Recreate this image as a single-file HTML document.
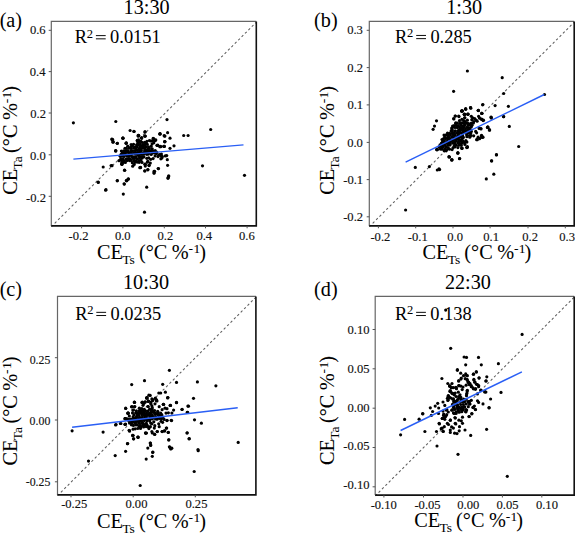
<!DOCTYPE html>
<html><head><meta charset="utf-8"><style>
html,body{margin:0;padding:0;background:#fff;}
body{width:575px;height:533px;overflow:hidden;}
svg{display:block;font-family:"Liberation Serif", serif;}
text{fill:#000;stroke:#000;stroke-width:0.04px;}
.tk{fill:#111;stroke:#111;stroke-width:0.15px;}
</style></head><body>
<svg width="575" height="533" viewBox="0 0 575 533">
<rect width="575" height="533" fill="#fff"/>
<line x1="51.3" y1="226.7" x2="256.3" y2="22.2" stroke="#5e5e5e" stroke-width="1.05" stroke-dasharray="2.4 2.4"/>
<g>
<circle cx="73.4" cy="122.8" r="1.58"/>
<circle cx="115.8" cy="121.5" r="1.58"/>
<circle cx="130.1" cy="130.5" r="1.58"/>
<circle cx="122.9" cy="138.2" r="1.58"/>
<circle cx="112.0" cy="139.4" r="1.58"/>
<circle cx="113.2" cy="141.9" r="1.58"/>
<circle cx="117.2" cy="143.3" r="1.58"/>
<circle cx="126.1" cy="143.1" r="1.58"/>
<circle cx="167.0" cy="119.6" r="1.58"/>
<circle cx="134.1" cy="131.5" r="1.58"/>
<circle cx="145.1" cy="131.9" r="1.58"/>
<circle cx="138.6" cy="135.4" r="1.58"/>
<circle cx="145.1" cy="136.0" r="1.58"/>
<circle cx="160.1" cy="133.7" r="1.58"/>
<circle cx="167.6" cy="132.7" r="1.58"/>
<circle cx="164.9" cy="136.1" r="1.58"/>
<circle cx="170.0" cy="138.2" r="1.58"/>
<circle cx="183.7" cy="135.5" r="1.58"/>
<circle cx="188.1" cy="135.5" r="1.58"/>
<circle cx="164.9" cy="141.5" r="1.58"/>
<circle cx="141.7" cy="137.9" r="1.58"/>
<circle cx="137.2" cy="140.7" r="1.58"/>
<circle cx="153.6" cy="138.6" r="1.58"/>
<circle cx="155.4" cy="140.3" r="1.58"/>
<circle cx="146.9" cy="141.3" r="1.58"/>
<circle cx="150.6" cy="141.0" r="1.58"/>
<circle cx="210.7" cy="129.5" r="1.58"/>
<circle cx="115.8" cy="151.0" r="1.58"/>
<circle cx="103.2" cy="167.0" r="1.58"/>
<circle cx="111.1" cy="165.6" r="1.58"/>
<circle cx="124.5" cy="170.2" r="1.58"/>
<circle cx="98.3" cy="182.4" r="1.58"/>
<circle cx="117.2" cy="180.8" r="1.58"/>
<circle cx="124.3" cy="184.1" r="1.58"/>
<circle cx="127.0" cy="180.2" r="1.58"/>
<circle cx="106.0" cy="189.7" r="1.58"/>
<circle cx="119.0" cy="160.7" r="1.58"/>
<circle cx="122.1" cy="164.3" r="1.58"/>
<circle cx="164.9" cy="141.8" r="1.58"/>
<circle cx="174.0" cy="145.8" r="1.58"/>
<circle cx="164.3" cy="146.3" r="1.58"/>
<circle cx="160.7" cy="146.7" r="1.58"/>
<circle cx="157.6" cy="145.5" r="1.58"/>
<circle cx="170.0" cy="148.3" r="1.58"/>
<circle cx="166.7" cy="155.6" r="1.58"/>
<circle cx="167.3" cy="159.7" r="1.58"/>
<circle cx="161.9" cy="158.0" r="1.58"/>
<circle cx="158.8" cy="155.2" r="1.58"/>
<circle cx="156.4" cy="153.6" r="1.58"/>
<circle cx="161.3" cy="155.8" r="1.58"/>
<circle cx="167.6" cy="165.3" r="1.58"/>
<circle cx="158.2" cy="168.6" r="1.58"/>
<circle cx="154.0" cy="171.4" r="1.58"/>
<circle cx="154.0" cy="173.1" r="1.58"/>
<circle cx="147.9" cy="169.8" r="1.58"/>
<circle cx="144.8" cy="171.0" r="1.58"/>
<circle cx="140.6" cy="167.4" r="1.58"/>
<circle cx="149.1" cy="165.6" r="1.58"/>
<circle cx="132.7" cy="166.2" r="1.58"/>
<circle cx="168.6" cy="176.5" r="1.58"/>
<circle cx="168.0" cy="178.3" r="1.58"/>
<circle cx="128.4" cy="179.0" r="1.58"/>
<circle cx="126.6" cy="180.8" r="1.58"/>
<circle cx="117.4" cy="180.5" r="1.58"/>
<circle cx="124.1" cy="183.8" r="1.58"/>
<circle cx="146.7" cy="187.2" r="1.58"/>
<circle cx="121.7" cy="164.3" r="1.58"/>
<circle cx="145.4" cy="164.3" r="1.58"/>
<circle cx="150.3" cy="163.1" r="1.58"/>
<circle cx="133.9" cy="131.4" r="1.58"/>
<circle cx="144.9" cy="131.9" r="1.58"/>
<circle cx="159.8" cy="133.8" r="1.58"/>
<circle cx="138.2" cy="135.3" r="1.58"/>
<circle cx="144.9" cy="136.2" r="1.58"/>
<circle cx="141.6" cy="138.1" r="1.58"/>
<circle cx="122.9" cy="138.1" r="1.58"/>
<circle cx="111.9" cy="139.1" r="1.58"/>
<circle cx="112.9" cy="142.0" r="1.58"/>
<circle cx="126.3" cy="142.9" r="1.58"/>
<circle cx="115.7" cy="150.6" r="1.58"/>
<circle cx="156.9" cy="145.3" r="1.58"/>
<circle cx="159.8" cy="146.7" r="1.58"/>
<circle cx="163.6" cy="146.3" r="1.58"/>
<circle cx="164.1" cy="135.7" r="1.58"/>
<circle cx="202.5" cy="165.8" r="1.58"/>
<circle cx="244.5" cy="175.3" r="1.58"/>
<circle cx="98.1" cy="182.0" r="1.58"/>
<circle cx="105.6" cy="190.2" r="1.58"/>
<circle cx="123.3" cy="194.1" r="1.58"/>
<circle cx="144.5" cy="212.2" r="1.58"/>
<circle cx="168.2" cy="177.3" r="1.58"/>
<circle cx="168.7" cy="175.8" r="1.58"/>
<circle cx="126.3" cy="180.5" r="1.58"/>
<circle cx="128.3" cy="178.9" r="1.58"/>
<circle cx="138.9" cy="141.0" r="1.58"/>
<circle cx="149.4" cy="140.5" r="1.58"/>
<circle cx="152.1" cy="140.9" r="1.58"/>
<circle cx="154.5" cy="140.7" r="1.58"/>
<circle cx="137.7" cy="142.9" r="1.58"/>
<circle cx="139.1" cy="142.3" r="1.58"/>
<circle cx="142.3" cy="142.5" r="1.58"/>
<circle cx="144.6" cy="142.4" r="1.58"/>
<circle cx="146.0" cy="142.7" r="1.58"/>
<circle cx="153.8" cy="142.8" r="1.58"/>
<circle cx="131.1" cy="144.5" r="1.58"/>
<circle cx="133.5" cy="144.3" r="1.58"/>
<circle cx="136.6" cy="144.9" r="1.58"/>
<circle cx="138.2" cy="144.9" r="1.58"/>
<circle cx="140.4" cy="144.4" r="1.58"/>
<circle cx="143.4" cy="144.7" r="1.58"/>
<circle cx="144.9" cy="145.0" r="1.58"/>
<circle cx="147.3" cy="144.3" r="1.58"/>
<circle cx="152.0" cy="144.1" r="1.58"/>
<circle cx="127.7" cy="146.2" r="1.58"/>
<circle cx="130.8" cy="146.9" r="1.58"/>
<circle cx="132.4" cy="146.2" r="1.58"/>
<circle cx="135.2" cy="147.0" r="1.58"/>
<circle cx="136.9" cy="147.0" r="1.58"/>
<circle cx="139.9" cy="146.7" r="1.58"/>
<circle cx="141.8" cy="146.2" r="1.58"/>
<circle cx="143.7" cy="147.0" r="1.58"/>
<circle cx="146.2" cy="146.8" r="1.58"/>
<circle cx="148.5" cy="146.9" r="1.58"/>
<circle cx="151.1" cy="146.3" r="1.58"/>
<circle cx="125.0" cy="148.3" r="1.58"/>
<circle cx="126.4" cy="148.3" r="1.58"/>
<circle cx="129.1" cy="148.1" r="1.58"/>
<circle cx="131.2" cy="148.4" r="1.58"/>
<circle cx="133.9" cy="148.2" r="1.58"/>
<circle cx="136.0" cy="148.9" r="1.58"/>
<circle cx="138.9" cy="148.7" r="1.58"/>
<circle cx="140.9" cy="148.6" r="1.58"/>
<circle cx="142.6" cy="148.1" r="1.58"/>
<circle cx="144.8" cy="149.0" r="1.58"/>
<circle cx="147.8" cy="149.0" r="1.58"/>
<circle cx="149.4" cy="148.7" r="1.58"/>
<circle cx="152.2" cy="148.8" r="1.58"/>
<circle cx="121.4" cy="151.0" r="1.58"/>
<circle cx="123.7" cy="150.8" r="1.58"/>
<circle cx="126.0" cy="151.0" r="1.58"/>
<circle cx="127.9" cy="150.7" r="1.58"/>
<circle cx="130.8" cy="150.9" r="1.58"/>
<circle cx="132.6" cy="150.8" r="1.58"/>
<circle cx="135.3" cy="150.6" r="1.58"/>
<circle cx="137.4" cy="150.4" r="1.58"/>
<circle cx="139.6" cy="150.7" r="1.58"/>
<circle cx="141.4" cy="150.7" r="1.58"/>
<circle cx="144.6" cy="150.9" r="1.58"/>
<circle cx="146.7" cy="150.4" r="1.58"/>
<circle cx="149.0" cy="150.6" r="1.58"/>
<circle cx="151.0" cy="150.9" r="1.58"/>
<circle cx="152.9" cy="150.8" r="1.58"/>
<circle cx="155.2" cy="150.7" r="1.58"/>
<circle cx="122.5" cy="152.6" r="1.58"/>
<circle cx="124.7" cy="153.0" r="1.58"/>
<circle cx="126.7" cy="152.1" r="1.58"/>
<circle cx="129.0" cy="152.7" r="1.58"/>
<circle cx="131.2" cy="152.2" r="1.58"/>
<circle cx="134.2" cy="152.7" r="1.58"/>
<circle cx="136.0" cy="152.9" r="1.58"/>
<circle cx="138.2" cy="152.7" r="1.58"/>
<circle cx="140.4" cy="152.5" r="1.58"/>
<circle cx="143.3" cy="153.0" r="1.58"/>
<circle cx="145.7" cy="152.4" r="1.58"/>
<circle cx="147.7" cy="152.4" r="1.58"/>
<circle cx="149.5" cy="152.6" r="1.58"/>
<circle cx="152.5" cy="152.9" r="1.58"/>
<circle cx="154.7" cy="153.0" r="1.58"/>
<circle cx="156.6" cy="152.2" r="1.58"/>
<circle cx="121.1" cy="154.3" r="1.58"/>
<circle cx="123.2" cy="154.5" r="1.58"/>
<circle cx="125.9" cy="154.6" r="1.58"/>
<circle cx="127.9" cy="154.9" r="1.58"/>
<circle cx="130.8" cy="154.5" r="1.58"/>
<circle cx="132.2" cy="154.1" r="1.58"/>
<circle cx="135.3" cy="154.1" r="1.58"/>
<circle cx="137.5" cy="154.6" r="1.58"/>
<circle cx="139.4" cy="154.8" r="1.58"/>
<circle cx="141.4" cy="154.2" r="1.58"/>
<circle cx="144.1" cy="154.1" r="1.58"/>
<circle cx="146.8" cy="154.3" r="1.58"/>
<circle cx="148.4" cy="154.1" r="1.58"/>
<circle cx="151.2" cy="154.5" r="1.58"/>
<circle cx="120.2" cy="156.3" r="1.58"/>
<circle cx="122.3" cy="156.2" r="1.58"/>
<circle cx="124.1" cy="156.5" r="1.58"/>
<circle cx="127.1" cy="156.2" r="1.58"/>
<circle cx="129.0" cy="156.4" r="1.58"/>
<circle cx="131.7" cy="156.6" r="1.58"/>
<circle cx="133.9" cy="156.8" r="1.58"/>
<circle cx="136.0" cy="156.8" r="1.58"/>
<circle cx="138.8" cy="156.1" r="1.58"/>
<circle cx="141.1" cy="156.8" r="1.58"/>
<circle cx="142.6" cy="156.5" r="1.58"/>
<circle cx="121.3" cy="158.8" r="1.58"/>
<circle cx="123.2" cy="159.0" r="1.58"/>
<circle cx="126.2" cy="159.0" r="1.58"/>
<circle cx="128.1" cy="158.8" r="1.58"/>
<circle cx="130.2" cy="159.0" r="1.58"/>
<circle cx="133.0" cy="158.4" r="1.58"/>
<circle cx="134.5" cy="158.5" r="1.58"/>
<circle cx="137.3" cy="158.8" r="1.58"/>
<circle cx="139.5" cy="158.1" r="1.58"/>
<circle cx="142.2" cy="158.1" r="1.58"/>
<circle cx="120.4" cy="160.1" r="1.58"/>
<circle cx="122.0" cy="160.6" r="1.58"/>
<circle cx="124.4" cy="160.8" r="1.58"/>
<circle cx="127.0" cy="160.6" r="1.58"/>
<circle cx="129.5" cy="160.6" r="1.58"/>
<circle cx="131.3" cy="160.4" r="1.58"/>
<circle cx="134.1" cy="161.0" r="1.58"/>
<circle cx="135.8" cy="160.9" r="1.58"/>
<circle cx="138.9" cy="160.6" r="1.58"/>
<circle cx="140.8" cy="160.3" r="1.58"/>
<circle cx="121.6" cy="163.0" r="1.58"/>
<circle cx="123.2" cy="162.5" r="1.58"/>
<circle cx="125.4" cy="162.5" r="1.58"/>
<circle cx="132.3" cy="162.7" r="1.58"/>
<circle cx="135.4" cy="162.2" r="1.58"/>
<circle cx="137.5" cy="162.1" r="1.58"/>
<circle cx="139.2" cy="162.3" r="1.58"/>
<circle cx="142.0" cy="162.4" r="1.58"/>
<circle cx="134.2" cy="164.4" r="1.58"/>
<circle cx="123.0" cy="138.2" r="1.58"/>
<circle cx="117.4" cy="143.3" r="1.58"/>
<circle cx="126.1" cy="143.3" r="1.58"/>
<circle cx="115.7" cy="150.9" r="1.58"/>
<circle cx="112.7" cy="139.7" r="1.58"/>
<circle cx="113.0" cy="141.9" r="1.58"/>
<circle cx="138.3" cy="136.2" r="1.58"/>
<circle cx="137.4" cy="140.4" r="1.58"/>
<circle cx="138.7" cy="135.5" r="1.58"/>
<circle cx="145.1" cy="136.0" r="1.58"/>
<circle cx="141.7" cy="137.9" r="1.58"/>
<circle cx="160.0" cy="134.2" r="1.58"/>
<circle cx="164.6" cy="136.0" r="1.58"/>
<circle cx="153.1" cy="138.4" r="1.58"/>
<circle cx="155.8" cy="139.9" r="1.58"/>
<circle cx="164.6" cy="141.6" r="1.58"/>
<circle cx="157.8" cy="145.2" r="1.58"/>
<circle cx="160.4" cy="146.4" r="1.58"/>
<circle cx="164.3" cy="146.4" r="1.58"/>
<circle cx="140.9" cy="141.3" r="1.58"/>
<circle cx="138.5" cy="139.9" r="1.58"/>
<circle cx="124.7" cy="170.3" r="1.58"/>
<circle cx="112.0" cy="165.7" r="1.58"/>
<circle cx="139.8" cy="167.7" r="1.58"/>
<circle cx="143.9" cy="156.9" r="1.58"/>
<circle cx="146.8" cy="158.3" r="1.58"/>
<circle cx="148.7" cy="157.9" r="1.58"/>
<circle cx="150.7" cy="159.3" r="1.58"/>
<circle cx="153.1" cy="158.6" r="1.58"/>
<circle cx="155.1" cy="155.9" r="1.58"/>
<circle cx="158.0" cy="156.6" r="1.58"/>
<circle cx="159.5" cy="154.7" r="1.58"/>
<circle cx="161.4" cy="154.0" r="1.58"/>
<circle cx="162.4" cy="156.6" r="1.58"/>
<circle cx="160.9" cy="158.8" r="1.58"/>
<circle cx="165.3" cy="155.9" r="1.58"/>
<circle cx="140.4" cy="167.6" r="1.58"/>
<circle cx="145.3" cy="166.1" r="1.58"/>
<circle cx="144.8" cy="164.2" r="1.58"/>
<circle cx="149.0" cy="165.2" r="1.58"/>
<circle cx="144.8" cy="170.8" r="1.58"/>
<circle cx="147.8" cy="169.6" r="1.58"/>
<circle cx="154.6" cy="171.3" r="1.58"/>
<circle cx="154.1" cy="173.0" r="1.58"/>
<circle cx="158.5" cy="168.6" r="1.58"/>
<circle cx="147.8" cy="161.3" r="1.58"/>
<circle cx="147.3" cy="162.2" r="1.58"/>
</g>
<line x1="73.4" y1="159.1" x2="243.5" y2="144.9" stroke="#2a5ff5" stroke-width="1.4"/>
<path d="M51.3,225.9V21.4H256.3" fill="none" stroke="#666" stroke-width="1.2"/>
<path d="M51.3,225.9H256.3V21.4" fill="none" stroke="#111" stroke-width="1.6"/>
<line x1="81.6" y1="225.9" x2="81.6" y2="228.3" stroke="#555" stroke-width="1"/>
<line x1="122.9" y1="225.9" x2="122.9" y2="228.3" stroke="#555" stroke-width="1"/>
<line x1="164.3" y1="225.9" x2="164.3" y2="228.3" stroke="#555" stroke-width="1"/>
<line x1="205.5" y1="225.9" x2="205.5" y2="228.3" stroke="#555" stroke-width="1"/>
<line x1="247.1" y1="225.9" x2="247.1" y2="228.3" stroke="#555" stroke-width="1"/>
<line x1="48.7" y1="30.3" x2="51.3" y2="30.3" stroke="#555" stroke-width="1"/>
<line x1="48.7" y1="71.6" x2="51.3" y2="71.6" stroke="#555" stroke-width="1"/>
<line x1="48.7" y1="113.0" x2="51.3" y2="113.0" stroke="#555" stroke-width="1"/>
<line x1="48.7" y1="154.8" x2="51.3" y2="154.8" stroke="#555" stroke-width="1"/>
<line x1="48.7" y1="196.3" x2="51.3" y2="196.3" stroke="#555" stroke-width="1"/>
<text x="68.53" y="240.20" font-size="12.6" class=tk>-0.2</text>
<text x="114.92" y="240.20" font-size="12.6" class=tk>0.0</text>
<text x="157.52" y="240.20" font-size="12.6" class=tk>0.2</text>
<text x="196.42" y="240.20" font-size="12.6" class=tk>0.4</text>
<text x="239.02" y="240.20" font-size="12.6" class=tk>0.6</text>
<text x="29.93" y="33.78" font-size="12.6" class=tk>0.6</text>
<text x="29.75" y="75.83" font-size="12.6" class=tk>0.4</text>
<text x="30.25" y="117.98" font-size="12.6" class=tk>0.2</text>
<text x="30.03" y="160.13" font-size="12.6" class=tk>0.0</text>
<text x="26.05" y="202.23" font-size="12.6" class=tk>-0.2</text>
<line x1="369.3" y1="226.7" x2="574.2" y2="22.2" stroke="#5e5e5e" stroke-width="1.05" stroke-dasharray="2.4 2.4"/>
<g>
<circle cx="467.4" cy="71.0" r="1.58"/>
<circle cx="502.2" cy="77.7" r="1.58"/>
<circle cx="453.6" cy="91.3" r="1.58"/>
<circle cx="503.7" cy="93.5" r="1.58"/>
<circle cx="544.5" cy="94.5" r="1.58"/>
<circle cx="482.6" cy="104.8" r="1.58"/>
<circle cx="495.1" cy="105.6" r="1.58"/>
<circle cx="508.4" cy="106.3" r="1.58"/>
<circle cx="470.5" cy="107.7" r="1.58"/>
<circle cx="465.7" cy="109.0" r="1.58"/>
<circle cx="461.5" cy="111.0" r="1.58"/>
<circle cx="478.2" cy="110.6" r="1.58"/>
<circle cx="481.8" cy="113.3" r="1.58"/>
<circle cx="464.6" cy="114.2" r="1.58"/>
<circle cx="467.7" cy="114.2" r="1.58"/>
<circle cx="436.5" cy="120.8" r="1.58"/>
<circle cx="434.5" cy="126.1" r="1.58"/>
<circle cx="433.1" cy="129.3" r="1.58"/>
<circle cx="462.1" cy="111.1" r="1.58"/>
<circle cx="465.7" cy="109.3" r="1.58"/>
<circle cx="455.4" cy="116.0" r="1.58"/>
<circle cx="459.0" cy="116.6" r="1.58"/>
<circle cx="453.6" cy="118.6" r="1.58"/>
<circle cx="468.2" cy="114.1" r="1.58"/>
<circle cx="464.5" cy="114.7" r="1.58"/>
<circle cx="437.1" cy="149.8" r="1.58"/>
<circle cx="442.0" cy="139.5" r="1.58"/>
<circle cx="491.2" cy="117.4" r="1.58"/>
<circle cx="503.7" cy="116.7" r="1.58"/>
<circle cx="509.3" cy="126.4" r="1.58"/>
<circle cx="487.7" cy="127.1" r="1.58"/>
<circle cx="489.5" cy="129.9" r="1.58"/>
<circle cx="437.0" cy="149.4" r="1.58"/>
<circle cx="457.8" cy="152.9" r="1.58"/>
<circle cx="462.0" cy="148.4" r="1.58"/>
<circle cx="467.3" cy="147.3" r="1.58"/>
<circle cx="449.5" cy="157.0" r="1.58"/>
<circle cx="452.0" cy="159.8" r="1.58"/>
<circle cx="459.5" cy="158.7" r="1.58"/>
<circle cx="496.5" cy="154.7" r="1.58"/>
<circle cx="491.5" cy="160.8" r="1.58"/>
<circle cx="439.0" cy="168.9" r="1.58"/>
<circle cx="477.3" cy="139.7" r="1.58"/>
<circle cx="481.5" cy="136.9" r="1.58"/>
<circle cx="415.3" cy="167.4" r="1.58"/>
<circle cx="429.4" cy="166.6" r="1.58"/>
<circle cx="437.3" cy="170.0" r="1.58"/>
<circle cx="439.6" cy="169.6" r="1.58"/>
<circle cx="405.6" cy="210.0" r="1.58"/>
<circle cx="437.3" cy="149.4" r="1.58"/>
<circle cx="449.0" cy="156.7" r="1.58"/>
<circle cx="451.7" cy="159.9" r="1.58"/>
<circle cx="457.9" cy="153.1" r="1.58"/>
<circle cx="462.0" cy="148.1" r="1.58"/>
<circle cx="467.0" cy="147.3" r="1.58"/>
<circle cx="481.9" cy="113.4" r="1.58"/>
<circle cx="491.0" cy="117.0" r="1.58"/>
<circle cx="491.3" cy="118.1" r="1.58"/>
<circle cx="503.5" cy="116.6" r="1.58"/>
<circle cx="487.8" cy="127.2" r="1.58"/>
<circle cx="489.7" cy="130.0" r="1.58"/>
<circle cx="480.8" cy="128.5" r="1.58"/>
<circle cx="481.6" cy="135.8" r="1.58"/>
<circle cx="482.3" cy="137.4" r="1.58"/>
<circle cx="481.9" cy="119.4" r="1.58"/>
<circle cx="483.1" cy="120.6" r="1.58"/>
<circle cx="518.7" cy="146.5" r="1.58"/>
<circle cx="496.4" cy="154.9" r="1.58"/>
<circle cx="491.7" cy="160.9" r="1.58"/>
<circle cx="493.8" cy="174.2" r="1.58"/>
<circle cx="486.3" cy="178.9" r="1.58"/>
<circle cx="482.9" cy="104.5" r="1.58"/>
<circle cx="470.6" cy="107.7" r="1.58"/>
<circle cx="461.7" cy="110.9" r="1.58"/>
<circle cx="478.4" cy="110.4" r="1.58"/>
<circle cx="463.6" cy="120.7" r="1.58"/>
<circle cx="465.2" cy="121.6" r="1.58"/>
<circle cx="455.7" cy="123.3" r="1.58"/>
<circle cx="457.4" cy="123.0" r="1.58"/>
<circle cx="460.0" cy="123.3" r="1.58"/>
<circle cx="461.8" cy="122.9" r="1.58"/>
<circle cx="464.3" cy="123.2" r="1.58"/>
<circle cx="467.1" cy="123.2" r="1.58"/>
<circle cx="468.6" cy="123.5" r="1.58"/>
<circle cx="471.3" cy="123.2" r="1.58"/>
<circle cx="473.4" cy="123.1" r="1.58"/>
<circle cx="454.1" cy="125.6" r="1.58"/>
<circle cx="456.4" cy="125.6" r="1.58"/>
<circle cx="458.4" cy="125.6" r="1.58"/>
<circle cx="460.9" cy="124.8" r="1.58"/>
<circle cx="463.5" cy="125.6" r="1.58"/>
<circle cx="465.1" cy="124.9" r="1.58"/>
<circle cx="468.2" cy="125.0" r="1.58"/>
<circle cx="469.9" cy="124.7" r="1.58"/>
<circle cx="472.0" cy="125.3" r="1.58"/>
<circle cx="453.3" cy="126.8" r="1.58"/>
<circle cx="455.0" cy="127.5" r="1.58"/>
<circle cx="457.3" cy="127.6" r="1.58"/>
<circle cx="459.9" cy="127.3" r="1.58"/>
<circle cx="462.4" cy="126.9" r="1.58"/>
<circle cx="464.2" cy="126.9" r="1.58"/>
<circle cx="466.9" cy="127.3" r="1.58"/>
<circle cx="468.7" cy="127.5" r="1.58"/>
<circle cx="471.3" cy="126.9" r="1.58"/>
<circle cx="452.0" cy="129.2" r="1.58"/>
<circle cx="459.1" cy="129.6" r="1.58"/>
<circle cx="461.0" cy="129.4" r="1.58"/>
<circle cx="463.2" cy="128.8" r="1.58"/>
<circle cx="465.5" cy="129.0" r="1.58"/>
<circle cx="468.3" cy="129.3" r="1.58"/>
<circle cx="470.2" cy="129.3" r="1.58"/>
<circle cx="451.1" cy="131.0" r="1.58"/>
<circle cx="452.5" cy="131.1" r="1.58"/>
<circle cx="455.2" cy="130.8" r="1.58"/>
<circle cx="457.7" cy="131.0" r="1.58"/>
<circle cx="459.6" cy="131.0" r="1.58"/>
<circle cx="462.6" cy="130.7" r="1.58"/>
<circle cx="464.3" cy="130.9" r="1.58"/>
<circle cx="466.5" cy="131.1" r="1.58"/>
<circle cx="468.8" cy="131.6" r="1.58"/>
<circle cx="471.4" cy="131.4" r="1.58"/>
<circle cx="447.5" cy="133.1" r="1.58"/>
<circle cx="449.7" cy="133.3" r="1.58"/>
<circle cx="452.3" cy="133.2" r="1.58"/>
<circle cx="454.3" cy="133.0" r="1.58"/>
<circle cx="456.6" cy="133.0" r="1.58"/>
<circle cx="458.7" cy="133.0" r="1.58"/>
<circle cx="460.8" cy="132.8" r="1.58"/>
<circle cx="463.0" cy="133.2" r="1.58"/>
<circle cx="465.4" cy="132.7" r="1.58"/>
<circle cx="468.2" cy="132.9" r="1.58"/>
<circle cx="470.6" cy="133.3" r="1.58"/>
<circle cx="444.0" cy="135.1" r="1.58"/>
<circle cx="446.2" cy="134.9" r="1.58"/>
<circle cx="448.3" cy="135.0" r="1.58"/>
<circle cx="450.5" cy="135.1" r="1.58"/>
<circle cx="453.3" cy="134.8" r="1.58"/>
<circle cx="455.0" cy="134.9" r="1.58"/>
<circle cx="458.0" cy="135.2" r="1.58"/>
<circle cx="459.4" cy="135.5" r="1.58"/>
<circle cx="462.5" cy="135.5" r="1.58"/>
<circle cx="466.6" cy="134.8" r="1.58"/>
<circle cx="469.4" cy="135.5" r="1.58"/>
<circle cx="471.1" cy="135.5" r="1.58"/>
<circle cx="444.6" cy="137.0" r="1.58"/>
<circle cx="447.6" cy="137.3" r="1.58"/>
<circle cx="449.1" cy="137.3" r="1.58"/>
<circle cx="451.8" cy="137.1" r="1.58"/>
<circle cx="454.1" cy="137.3" r="1.58"/>
<circle cx="456.7" cy="137.2" r="1.58"/>
<circle cx="458.8" cy="137.1" r="1.58"/>
<circle cx="461.1" cy="137.0" r="1.58"/>
<circle cx="463.2" cy="137.2" r="1.58"/>
<circle cx="443.3" cy="138.8" r="1.58"/>
<circle cx="445.6" cy="138.7" r="1.58"/>
<circle cx="447.9" cy="138.9" r="1.58"/>
<circle cx="450.3" cy="139.3" r="1.58"/>
<circle cx="453.1" cy="139.6" r="1.58"/>
<circle cx="455.7" cy="139.4" r="1.58"/>
<circle cx="458.0" cy="138.7" r="1.58"/>
<circle cx="459.6" cy="139.6" r="1.58"/>
<circle cx="462.1" cy="138.9" r="1.58"/>
<circle cx="442.7" cy="141.3" r="1.58"/>
<circle cx="444.4" cy="140.9" r="1.58"/>
<circle cx="447.2" cy="141.4" r="1.58"/>
<circle cx="449.8" cy="141.4" r="1.58"/>
<circle cx="451.6" cy="141.0" r="1.58"/>
<circle cx="454.5" cy="141.6" r="1.58"/>
<circle cx="456.4" cy="140.9" r="1.58"/>
<circle cx="458.8" cy="141.2" r="1.58"/>
<circle cx="460.9" cy="140.9" r="1.58"/>
<circle cx="463.2" cy="141.3" r="1.58"/>
<circle cx="441.5" cy="143.0" r="1.58"/>
<circle cx="443.6" cy="143.0" r="1.58"/>
<circle cx="446.5" cy="143.0" r="1.58"/>
<circle cx="448.4" cy="143.1" r="1.58"/>
<circle cx="450.3" cy="143.1" r="1.58"/>
<circle cx="452.7" cy="143.0" r="1.58"/>
<circle cx="455.1" cy="143.0" r="1.58"/>
<circle cx="458.0" cy="143.0" r="1.58"/>
<circle cx="459.7" cy="143.3" r="1.58"/>
<circle cx="462.0" cy="143.2" r="1.58"/>
<circle cx="464.6" cy="142.7" r="1.58"/>
<circle cx="440.0" cy="144.9" r="1.58"/>
<circle cx="442.7" cy="145.3" r="1.58"/>
<circle cx="445.0" cy="145.1" r="1.58"/>
<circle cx="447.7" cy="145.1" r="1.58"/>
<circle cx="449.9" cy="145.1" r="1.58"/>
<circle cx="454.3" cy="145.4" r="1.58"/>
<circle cx="456.1" cy="145.2" r="1.58"/>
<circle cx="458.9" cy="145.2" r="1.58"/>
<circle cx="461.2" cy="145.3" r="1.58"/>
<circle cx="439.0" cy="146.9" r="1.58"/>
<circle cx="441.4" cy="146.7" r="1.58"/>
<circle cx="443.3" cy="146.8" r="1.58"/>
<circle cx="445.9" cy="146.8" r="1.58"/>
<circle cx="448.0" cy="147.5" r="1.58"/>
<circle cx="453.1" cy="147.6" r="1.58"/>
<circle cx="454.9" cy="146.9" r="1.58"/>
<circle cx="457.9" cy="147.6" r="1.58"/>
<circle cx="440.4" cy="149.1" r="1.58"/>
<circle cx="442.1" cy="149.2" r="1.58"/>
<circle cx="444.8" cy="149.1" r="1.58"/>
<circle cx="446.8" cy="149.6" r="1.58"/>
<circle cx="449.5" cy="149.2" r="1.58"/>
<circle cx="452.1" cy="149.6" r="1.58"/>
<circle cx="444.2" cy="150.8" r="1.58"/>
<circle cx="446.2" cy="150.8" r="1.58"/>
<circle cx="461.9" cy="111.0" r="1.58"/>
<circle cx="455.1" cy="116.1" r="1.58"/>
<circle cx="458.7" cy="116.1" r="1.58"/>
<circle cx="453.9" cy="119.0" r="1.58"/>
<circle cx="464.3" cy="114.4" r="1.58"/>
<circle cx="459.5" cy="120.7" r="1.58"/>
<circle cx="461.9" cy="119.3" r="1.58"/>
<circle cx="464.8" cy="117.8" r="1.58"/>
<circle cx="455.8" cy="122.9" r="1.58"/>
<circle cx="452.6" cy="126.1" r="1.58"/>
<circle cx="451.7" cy="128.0" r="1.58"/>
<circle cx="457.5" cy="126.1" r="1.58"/>
<circle cx="460.4" cy="128.0" r="1.58"/>
<circle cx="465.7" cy="108.7" r="1.58"/>
<circle cx="470.8" cy="108.2" r="1.58"/>
<circle cx="478.3" cy="110.4" r="1.58"/>
<circle cx="481.8" cy="113.4" r="1.58"/>
<circle cx="462.5" cy="110.9" r="1.58"/>
<circle cx="464.2" cy="114.3" r="1.58"/>
<circle cx="467.9" cy="114.3" r="1.58"/>
<circle cx="464.7" cy="117.8" r="1.58"/>
<circle cx="471.3" cy="116.3" r="1.58"/>
<circle cx="472.7" cy="117.8" r="1.58"/>
<circle cx="474.7" cy="118.7" r="1.58"/>
<circle cx="476.1" cy="120.2" r="1.58"/>
<circle cx="477.1" cy="121.2" r="1.58"/>
<circle cx="478.6" cy="116.3" r="1.58"/>
<circle cx="479.6" cy="118.2" r="1.58"/>
<circle cx="481.5" cy="119.2" r="1.58"/>
<circle cx="483.5" cy="120.2" r="1.58"/>
<circle cx="471.8" cy="119.7" r="1.58"/>
<circle cx="473.7" cy="121.7" r="1.58"/>
<circle cx="487.9" cy="127.0" r="1.58"/>
<circle cx="467.4" cy="120.2" r="1.58"/>
<circle cx="466.9" cy="136.7" r="1.58"/>
<circle cx="469.8" cy="137.2" r="1.58"/>
<circle cx="473.7" cy="135.8" r="1.58"/>
<circle cx="476.6" cy="132.8" r="1.58"/>
<circle cx="478.1" cy="137.2" r="1.58"/>
<circle cx="476.6" cy="139.7" r="1.58"/>
<circle cx="479.6" cy="138.7" r="1.58"/>
<circle cx="481.5" cy="135.3" r="1.58"/>
<circle cx="483.0" cy="137.2" r="1.58"/>
<circle cx="475.7" cy="131.4" r="1.58"/>
<circle cx="479.1" cy="128.4" r="1.58"/>
<circle cx="481.0" cy="128.9" r="1.58"/>
<circle cx="487.4" cy="127.5" r="1.58"/>
<circle cx="489.3" cy="129.9" r="1.58"/>
<circle cx="463.0" cy="137.7" r="1.58"/>
<circle cx="465.9" cy="140.6" r="1.58"/>
<circle cx="466.9" cy="142.1" r="1.58"/>
<circle cx="464.9" cy="144.5" r="1.58"/>
<circle cx="467.4" cy="146.5" r="1.58"/>
<circle cx="436.6" cy="149.6" r="1.58"/>
<circle cx="461.7" cy="148.1" r="1.58"/>
<circle cx="466.8" cy="147.6" r="1.58"/>
<circle cx="457.9" cy="152.9" r="1.58"/>
<circle cx="449.0" cy="157.0" r="1.58"/>
<circle cx="451.9" cy="159.9" r="1.58"/>
<circle cx="459.7" cy="158.5" r="1.58"/>
</g>
<line x1="405.6" y1="162.2" x2="544.3" y2="94.5" stroke="#2a5ff5" stroke-width="1.4"/>
<path d="M369.3,225.9V21.4H574.2" fill="none" stroke="#666" stroke-width="1.2"/>
<path d="M369.3,225.9H574.2V21.4" fill="none" stroke="#111" stroke-width="1.6"/>
<line x1="378.4" y1="225.9" x2="378.4" y2="228.3" stroke="#555" stroke-width="1"/>
<line x1="415.7" y1="225.9" x2="415.7" y2="228.3" stroke="#555" stroke-width="1"/>
<line x1="453.0" y1="225.9" x2="453.0" y2="228.3" stroke="#555" stroke-width="1"/>
<line x1="490.1" y1="225.9" x2="490.1" y2="228.3" stroke="#555" stroke-width="1"/>
<line x1="528.0" y1="225.9" x2="528.0" y2="228.3" stroke="#555" stroke-width="1"/>
<line x1="565.3" y1="225.9" x2="565.3" y2="228.3" stroke="#555" stroke-width="1"/>
<line x1="366.7" y1="30.3" x2="369.3" y2="30.3" stroke="#555" stroke-width="1"/>
<line x1="366.7" y1="67.6" x2="369.3" y2="67.6" stroke="#555" stroke-width="1"/>
<line x1="366.7" y1="104.9" x2="369.3" y2="104.9" stroke="#555" stroke-width="1"/>
<line x1="366.7" y1="142.4" x2="369.3" y2="142.4" stroke="#555" stroke-width="1"/>
<line x1="366.7" y1="179.6" x2="369.3" y2="179.6" stroke="#555" stroke-width="1"/>
<line x1="366.7" y1="216.8" x2="369.3" y2="216.8" stroke="#555" stroke-width="1"/>
<text x="370.43" y="241.00" font-size="12.6" class=tk>-0.2</text>
<text x="407.83" y="241.00" font-size="12.6" class=tk>-0.1</text>
<text x="447.32" y="241.00" font-size="12.6" class=tk>0.0</text>
<text x="483.22" y="241.00" font-size="12.6" class=tk>0.1</text>
<text x="522.32" y="241.00" font-size="12.6" class=tk>0.2</text>
<text x="559.22" y="241.00" font-size="12.6" class=tk>0.3</text>
<text x="347.14" y="33.83" font-size="12.6" class=tk>0.3</text>
<text x="347.35" y="71.73" font-size="12.6" class=tk>0.2</text>
<text x="347.41" y="108.83" font-size="12.6" class=tk>0.1</text>
<text x="347.13" y="146.63" font-size="12.6" class=tk>0.0</text>
<text x="343.21" y="183.83" font-size="12.6" class=tk>-0.1</text>
<text x="343.15" y="220.88" font-size="12.6" class=tk>-0.2</text>
<line x1="57.5" y1="495.7" x2="255.9" y2="297.2" stroke="#5e5e5e" stroke-width="1.05" stroke-dasharray="2.4 2.4"/>
<g>
<circle cx="131.7" cy="384.6" r="1.58"/>
<circle cx="144.5" cy="380.7" r="1.58"/>
<circle cx="146.5" cy="397.9" r="1.58"/>
<circle cx="148.9" cy="395.2" r="1.58"/>
<circle cx="134.6" cy="402.3" r="1.58"/>
<circle cx="125.7" cy="408.2" r="1.58"/>
<circle cx="132.0" cy="406.6" r="1.58"/>
<circle cx="134.8" cy="406.6" r="1.58"/>
<circle cx="142.2" cy="402.6" r="1.58"/>
<circle cx="145.3" cy="401.9" r="1.58"/>
<circle cx="148.4" cy="401.0" r="1.58"/>
<circle cx="128.1" cy="413.2" r="1.58"/>
<circle cx="132.8" cy="410.1" r="1.58"/>
<circle cx="169.4" cy="370.3" r="1.58"/>
<circle cx="162.7" cy="384.3" r="1.58"/>
<circle cx="176.5" cy="382.4" r="1.58"/>
<circle cx="197.4" cy="381.9" r="1.58"/>
<circle cx="215.9" cy="385.8" r="1.58"/>
<circle cx="158.8" cy="393.0" r="1.58"/>
<circle cx="160.7" cy="393.0" r="1.58"/>
<circle cx="165.4" cy="392.2" r="1.58"/>
<circle cx="167.9" cy="397.6" r="1.58"/>
<circle cx="193.5" cy="398.3" r="1.58"/>
<circle cx="176.5" cy="402.4" r="1.58"/>
<circle cx="163.5" cy="404.3" r="1.58"/>
<circle cx="170.5" cy="405.4" r="1.58"/>
<circle cx="188.5" cy="406.2" r="1.58"/>
<circle cx="182.0" cy="409.5" r="1.58"/>
<circle cx="173.6" cy="410.1" r="1.58"/>
<circle cx="187.7" cy="412.4" r="1.58"/>
<circle cx="150.2" cy="395.4" r="1.58"/>
<circle cx="147.0" cy="397.6" r="1.58"/>
<circle cx="152.5" cy="399.6" r="1.58"/>
<circle cx="155.6" cy="398.8" r="1.58"/>
<circle cx="156.4" cy="400.7" r="1.58"/>
<circle cx="151.0" cy="402.0" r="1.58"/>
<circle cx="142.3" cy="402.0" r="1.58"/>
<circle cx="143.9" cy="403.5" r="1.58"/>
<circle cx="128.1" cy="413.1" r="1.58"/>
<circle cx="134.3" cy="402.0" r="1.58"/>
<circle cx="167.7" cy="397.5" r="1.58"/>
<circle cx="176.5" cy="402.7" r="1.58"/>
<circle cx="170.1" cy="405.4" r="1.58"/>
<circle cx="163.6" cy="404.5" r="1.58"/>
<circle cx="182.1" cy="409.3" r="1.58"/>
<circle cx="187.9" cy="406.1" r="1.58"/>
<circle cx="187.2" cy="412.4" r="1.58"/>
<circle cx="171.2" cy="420.3" r="1.58"/>
<circle cx="167.0" cy="420.3" r="1.58"/>
<circle cx="166.3" cy="428.1" r="1.58"/>
<circle cx="162.2" cy="431.5" r="1.58"/>
<circle cx="164.3" cy="430.9" r="1.58"/>
<circle cx="168.4" cy="432.3" r="1.58"/>
<circle cx="157.3" cy="431.5" r="1.58"/>
<circle cx="154.5" cy="434.2" r="1.58"/>
<circle cx="145.5" cy="432.8" r="1.58"/>
<circle cx="133.0" cy="435.3" r="1.58"/>
<circle cx="137.8" cy="437.0" r="1.58"/>
<circle cx="133.7" cy="438.8" r="1.58"/>
<circle cx="115.6" cy="424.9" r="1.58"/>
<circle cx="120.4" cy="423.5" r="1.58"/>
<circle cx="125.3" cy="424.5" r="1.58"/>
<circle cx="129.5" cy="430.9" r="1.58"/>
<circle cx="127.4" cy="443.7" r="1.58"/>
<circle cx="125.6" cy="451.3" r="1.58"/>
<circle cx="150.3" cy="443.0" r="1.58"/>
<circle cx="150.8" cy="445.1" r="1.58"/>
<circle cx="147.8" cy="448.1" r="1.58"/>
<circle cx="152.9" cy="452.0" r="1.58"/>
<circle cx="168.9" cy="439.8" r="1.58"/>
<circle cx="169.8" cy="447.2" r="1.58"/>
<circle cx="170.8" cy="448.6" r="1.58"/>
<circle cx="187.2" cy="432.8" r="1.58"/>
<circle cx="189.0" cy="438.8" r="1.58"/>
<circle cx="194.5" cy="419.8" r="1.58"/>
<circle cx="201.4" cy="423.2" r="1.58"/>
<circle cx="187.0" cy="433.0" r="1.58"/>
<circle cx="189.3" cy="438.7" r="1.58"/>
<circle cx="238.2" cy="442.4" r="1.58"/>
<circle cx="198.0" cy="449.5" r="1.58"/>
<circle cx="72.1" cy="430.8" r="1.58"/>
<circle cx="103.1" cy="432.1" r="1.58"/>
<circle cx="88.5" cy="461.1" r="1.58"/>
<circle cx="115.2" cy="455.6" r="1.58"/>
<circle cx="116.1" cy="424.6" r="1.58"/>
<circle cx="120.9" cy="423.5" r="1.58"/>
<circle cx="128.0" cy="413.4" r="1.58"/>
<circle cx="125.6" cy="418.7" r="1.58"/>
<circle cx="125.6" cy="424.0" r="1.58"/>
<circle cx="129.1" cy="430.3" r="1.58"/>
<circle cx="132.8" cy="435.7" r="1.58"/>
<circle cx="133.5" cy="438.8" r="1.58"/>
<circle cx="138.1" cy="437.4" r="1.58"/>
<circle cx="127.7" cy="443.6" r="1.58"/>
<circle cx="150.3" cy="443.1" r="1.58"/>
<circle cx="150.6" cy="445.4" r="1.58"/>
<circle cx="152.7" cy="452.4" r="1.58"/>
<circle cx="152.3" cy="456.3" r="1.58"/>
<circle cx="146.2" cy="459.1" r="1.58"/>
<circle cx="168.7" cy="439.9" r="1.58"/>
<circle cx="169.4" cy="446.8" r="1.58"/>
<circle cx="170.8" cy="448.9" r="1.58"/>
<circle cx="171.8" cy="448.2" r="1.58"/>
<circle cx="198.2" cy="450.7" r="1.58"/>
<circle cx="194.2" cy="471.5" r="1.58"/>
<circle cx="140.2" cy="485.5" r="1.58"/>
<circle cx="140.4" cy="409.1" r="1.58"/>
<circle cx="141.9" cy="408.7" r="1.58"/>
<circle cx="144.3" cy="409.3" r="1.58"/>
<circle cx="149.6" cy="409.2" r="1.58"/>
<circle cx="152.0" cy="409.2" r="1.58"/>
<circle cx="136.4" cy="410.9" r="1.58"/>
<circle cx="139.1" cy="410.8" r="1.58"/>
<circle cx="140.9" cy="410.9" r="1.58"/>
<circle cx="143.3" cy="410.7" r="1.58"/>
<circle cx="145.5" cy="410.8" r="1.58"/>
<circle cx="147.7" cy="411.1" r="1.58"/>
<circle cx="150.9" cy="410.8" r="1.58"/>
<circle cx="153.0" cy="411.4" r="1.58"/>
<circle cx="154.6" cy="410.6" r="1.58"/>
<circle cx="157.7" cy="411.3" r="1.58"/>
<circle cx="135.6" cy="413.0" r="1.58"/>
<circle cx="137.7" cy="413.2" r="1.58"/>
<circle cx="139.9" cy="412.7" r="1.58"/>
<circle cx="142.1" cy="413.1" r="1.58"/>
<circle cx="144.3" cy="412.7" r="1.58"/>
<circle cx="146.6" cy="413.1" r="1.58"/>
<circle cx="149.4" cy="413.0" r="1.58"/>
<circle cx="151.1" cy="412.9" r="1.58"/>
<circle cx="153.7" cy="412.5" r="1.58"/>
<circle cx="155.7" cy="413.4" r="1.58"/>
<circle cx="158.1" cy="412.8" r="1.58"/>
<circle cx="160.6" cy="413.0" r="1.58"/>
<circle cx="133.9" cy="415.0" r="1.58"/>
<circle cx="137.1" cy="415.2" r="1.58"/>
<circle cx="138.7" cy="415.1" r="1.58"/>
<circle cx="141.6" cy="414.7" r="1.58"/>
<circle cx="143.6" cy="414.8" r="1.58"/>
<circle cx="145.6" cy="414.7" r="1.58"/>
<circle cx="147.9" cy="414.8" r="1.58"/>
<circle cx="150.0" cy="414.9" r="1.58"/>
<circle cx="152.3" cy="415.2" r="1.58"/>
<circle cx="155.1" cy="414.5" r="1.58"/>
<circle cx="157.6" cy="414.6" r="1.58"/>
<circle cx="159.6" cy="415.0" r="1.58"/>
<circle cx="161.8" cy="414.7" r="1.58"/>
<circle cx="133.1" cy="416.9" r="1.58"/>
<circle cx="135.9" cy="417.4" r="1.58"/>
<circle cx="137.3" cy="417.0" r="1.58"/>
<circle cx="139.7" cy="417.3" r="1.58"/>
<circle cx="142.2" cy="417.3" r="1.58"/>
<circle cx="144.7" cy="416.6" r="1.58"/>
<circle cx="146.5" cy="416.7" r="1.58"/>
<circle cx="149.7" cy="416.6" r="1.58"/>
<circle cx="151.6" cy="416.8" r="1.58"/>
<circle cx="153.7" cy="417.3" r="1.58"/>
<circle cx="155.9" cy="417.2" r="1.58"/>
<circle cx="158.7" cy="417.4" r="1.58"/>
<circle cx="160.8" cy="417.4" r="1.58"/>
<circle cx="163.0" cy="417.0" r="1.58"/>
<circle cx="125.5" cy="418.6" r="1.58"/>
<circle cx="127.1" cy="419.0" r="1.58"/>
<circle cx="130.1" cy="419.0" r="1.58"/>
<circle cx="131.8" cy="419.4" r="1.58"/>
<circle cx="134.1" cy="418.5" r="1.58"/>
<circle cx="136.2" cy="418.5" r="1.58"/>
<circle cx="139.2" cy="418.6" r="1.58"/>
<circle cx="141.5" cy="419.3" r="1.58"/>
<circle cx="144.0" cy="419.3" r="1.58"/>
<circle cx="145.8" cy="419.1" r="1.58"/>
<circle cx="148.5" cy="419.2" r="1.58"/>
<circle cx="150.2" cy="419.2" r="1.58"/>
<circle cx="152.4" cy="418.8" r="1.58"/>
<circle cx="155.5" cy="418.9" r="1.58"/>
<circle cx="157.1" cy="419.2" r="1.58"/>
<circle cx="159.6" cy="418.5" r="1.58"/>
<circle cx="161.5" cy="418.7" r="1.58"/>
<circle cx="164.1" cy="419.4" r="1.58"/>
<circle cx="129.1" cy="421.2" r="1.58"/>
<circle cx="130.9" cy="420.7" r="1.58"/>
<circle cx="133.2" cy="421.4" r="1.58"/>
<circle cx="135.5" cy="420.6" r="1.58"/>
<circle cx="137.7" cy="420.9" r="1.58"/>
<circle cx="139.8" cy="421.0" r="1.58"/>
<circle cx="141.9" cy="421.3" r="1.58"/>
<circle cx="144.4" cy="420.6" r="1.58"/>
<circle cx="147.1" cy="420.8" r="1.58"/>
<circle cx="149.7" cy="421.0" r="1.58"/>
<circle cx="129.5" cy="423.0" r="1.58"/>
<circle cx="131.6" cy="422.9" r="1.58"/>
<circle cx="134.6" cy="422.8" r="1.58"/>
<circle cx="136.4" cy="422.5" r="1.58"/>
<circle cx="139.2" cy="422.9" r="1.58"/>
<circle cx="141.7" cy="423.2" r="1.58"/>
<circle cx="143.2" cy="423.4" r="1.58"/>
<circle cx="146.3" cy="423.3" r="1.58"/>
<circle cx="150.7" cy="423.1" r="1.58"/>
<circle cx="131.4" cy="424.8" r="1.58"/>
<circle cx="133.4" cy="425.4" r="1.58"/>
<circle cx="135.7" cy="424.8" r="1.58"/>
<circle cx="137.4" cy="424.9" r="1.58"/>
<circle cx="140.0" cy="425.3" r="1.58"/>
<circle cx="142.7" cy="425.4" r="1.58"/>
<circle cx="144.6" cy="424.9" r="1.58"/>
<circle cx="147.1" cy="425.2" r="1.58"/>
<circle cx="139.3" cy="426.6" r="1.58"/>
<circle cx="140.8" cy="427.1" r="1.58"/>
<circle cx="143.6" cy="427.0" r="1.58"/>
<circle cx="146.1" cy="426.6" r="1.58"/>
<circle cx="148.4" cy="426.9" r="1.58"/>
<circle cx="150.4" cy="426.7" r="1.58"/>
<circle cx="133.1" cy="429.2" r="1.58"/>
<circle cx="135.2" cy="428.8" r="1.58"/>
<circle cx="137.7" cy="428.5" r="1.58"/>
<circle cx="140.5" cy="428.5" r="1.58"/>
<circle cx="134.4" cy="402.4" r="1.58"/>
<circle cx="125.7" cy="408.5" r="1.58"/>
<circle cx="131.5" cy="406.8" r="1.58"/>
<circle cx="134.4" cy="406.8" r="1.58"/>
<circle cx="142.0" cy="402.6" r="1.58"/>
<circle cx="144.9" cy="402.1" r="1.58"/>
<circle cx="148.3" cy="401.2" r="1.58"/>
<circle cx="146.9" cy="398.2" r="1.58"/>
<circle cx="143.0" cy="405.3" r="1.58"/>
<circle cx="148.1" cy="406.5" r="1.58"/>
<circle cx="139.3" cy="408.2" r="1.58"/>
<circle cx="133.5" cy="410.0" r="1.58"/>
<circle cx="132.5" cy="412.9" r="1.58"/>
<circle cx="127.9" cy="413.1" r="1.58"/>
<circle cx="129.3" cy="416.0" r="1.58"/>
<circle cx="125.2" cy="418.7" r="1.58"/>
<circle cx="127.9" cy="419.0" r="1.58"/>
<circle cx="167.7" cy="398.0" r="1.58"/>
<circle cx="163.3" cy="404.3" r="1.58"/>
<circle cx="170.4" cy="405.5" r="1.58"/>
<circle cx="147.0" cy="398.0" r="1.58"/>
<circle cx="148.4" cy="401.4" r="1.58"/>
<circle cx="151.9" cy="398.9" r="1.58"/>
<circle cx="152.8" cy="400.6" r="1.58"/>
<circle cx="155.3" cy="398.2" r="1.58"/>
<circle cx="156.5" cy="399.9" r="1.58"/>
<circle cx="157.0" cy="400.9" r="1.58"/>
<circle cx="150.9" cy="403.8" r="1.58"/>
<circle cx="155.0" cy="403.8" r="1.58"/>
<circle cx="148.0" cy="406.5" r="1.58"/>
<circle cx="151.9" cy="405.8" r="1.58"/>
<circle cx="152.3" cy="407.7" r="1.58"/>
<circle cx="159.2" cy="406.7" r="1.58"/>
<circle cx="165.0" cy="408.2" r="1.58"/>
<circle cx="167.0" cy="408.7" r="1.58"/>
<circle cx="162.1" cy="409.7" r="1.58"/>
<circle cx="166.0" cy="413.1" r="1.58"/>
<circle cx="168.4" cy="412.8" r="1.58"/>
<circle cx="171.9" cy="413.1" r="1.58"/>
<circle cx="124.9" cy="418.7" r="1.58"/>
<circle cx="127.9" cy="419.4" r="1.58"/>
<circle cx="124.9" cy="424.3" r="1.58"/>
<circle cx="129.6" cy="430.9" r="1.58"/>
<circle cx="132.7" cy="435.3" r="1.58"/>
<circle cx="138.1" cy="437.0" r="1.58"/>
<circle cx="145.7" cy="433.3" r="1.58"/>
<circle cx="167.0" cy="420.6" r="1.58"/>
<circle cx="171.6" cy="420.6" r="1.58"/>
<circle cx="153.8" cy="421.8" r="1.58"/>
<circle cx="151.9" cy="423.8" r="1.58"/>
<circle cx="154.8" cy="425.7" r="1.58"/>
<circle cx="158.7" cy="423.8" r="1.58"/>
<circle cx="159.2" cy="426.7" r="1.58"/>
<circle cx="154.3" cy="428.1" r="1.58"/>
<circle cx="161.1" cy="421.3" r="1.58"/>
<circle cx="162.6" cy="422.3" r="1.58"/>
<circle cx="166.7" cy="428.1" r="1.58"/>
<circle cx="162.1" cy="431.6" r="1.58"/>
<circle cx="164.8" cy="430.8" r="1.58"/>
<circle cx="168.2" cy="432.5" r="1.58"/>
<circle cx="157.2" cy="431.6" r="1.58"/>
<circle cx="151.9" cy="431.6" r="1.58"/>
<circle cx="152.3" cy="433.0" r="1.58"/>
<circle cx="154.8" cy="434.5" r="1.58"/>
<circle cx="146.5" cy="433.0" r="1.58"/>
<circle cx="148.9" cy="428.6" r="1.58"/>
</g>
<line x1="72.1" y1="427.3" x2="237.7" y2="407.8" stroke="#2a5ff5" stroke-width="1.4"/>
<path d="M57.5,494.9V296.4H255.9" fill="none" stroke="#666" stroke-width="1.2"/>
<path d="M57.5,494.9H255.9V296.4" fill="none" stroke="#111" stroke-width="1.6"/>
<line x1="71.0" y1="494.9" x2="71.0" y2="497.3" stroke="#555" stroke-width="1"/>
<line x1="133.2" y1="494.9" x2="133.2" y2="497.3" stroke="#555" stroke-width="1"/>
<line x1="195.3" y1="494.9" x2="195.3" y2="497.3" stroke="#555" stroke-width="1"/>
<line x1="54.9" y1="357.7" x2="57.5" y2="357.7" stroke="#555" stroke-width="1"/>
<line x1="54.9" y1="420.0" x2="57.5" y2="420.0" stroke="#555" stroke-width="1"/>
<line x1="54.9" y1="481.8" x2="57.5" y2="481.8" stroke="#555" stroke-width="1"/>
<text x="61.13" y="508.30" font-size="12.6" class=tk>-0.25</text>
<text x="125.42" y="508.30" font-size="12.6" class=tk>0.00</text>
<text x="185.42" y="508.30" font-size="12.6" class=tk>0.25</text>
<text transform="translate(29.64,363.58) scale(0.94,1)" font-size="12.6" class=tk>0.25</text>
<text transform="translate(29.62,425.18) scale(0.94,1)" font-size="12.6" class=tk>0.00</text>
<text transform="translate(25.69,486.48) scale(0.94,1)" font-size="12.6" class=tk>-0.25</text>
<line x1="375.2" y1="495.9" x2="574.2" y2="297.2" stroke="#5e5e5e" stroke-width="1.05" stroke-dasharray="2.4 2.4"/>
<g>
<circle cx="445.7" cy="310.1" r="1.58"/>
<circle cx="450.7" cy="348.3" r="1.58"/>
<circle cx="464.1" cy="357.0" r="1.58"/>
<circle cx="466.5" cy="357.4" r="1.58"/>
<circle cx="478.5" cy="357.4" r="1.58"/>
<circle cx="465.7" cy="364.8" r="1.58"/>
<circle cx="481.3" cy="364.8" r="1.58"/>
<circle cx="498.4" cy="363.7" r="1.58"/>
<circle cx="457.4" cy="369.5" r="1.58"/>
<circle cx="522.1" cy="334.4" r="1.58"/>
<circle cx="457.4" cy="370.3" r="1.58"/>
<circle cx="460.7" cy="373.2" r="1.58"/>
<circle cx="476.3" cy="371.9" r="1.58"/>
<circle cx="473.5" cy="374.2" r="1.58"/>
<circle cx="465.7" cy="373.9" r="1.58"/>
<circle cx="467.4" cy="375.7" r="1.58"/>
<circle cx="463.5" cy="375.7" r="1.58"/>
<circle cx="441.9" cy="378.5" r="1.58"/>
<circle cx="461.3" cy="378.1" r="1.58"/>
<circle cx="460.9" cy="379.1" r="1.58"/>
<circle cx="458.7" cy="380.9" r="1.58"/>
<circle cx="465.2" cy="378.7" r="1.58"/>
<circle cx="467.4" cy="380.4" r="1.58"/>
<circle cx="468.7" cy="382.2" r="1.58"/>
<circle cx="470.0" cy="383.5" r="1.58"/>
<circle cx="473.9" cy="380.0" r="1.58"/>
<circle cx="474.8" cy="382.2" r="1.58"/>
<circle cx="479.0" cy="378.1" r="1.58"/>
<circle cx="486.8" cy="376.8" r="1.58"/>
<circle cx="486.1" cy="380.9" r="1.58"/>
<circle cx="447.8" cy="383.5" r="1.58"/>
<circle cx="452.0" cy="383.5" r="1.58"/>
<circle cx="449.6" cy="386.1" r="1.58"/>
<circle cx="451.3" cy="387.7" r="1.58"/>
<circle cx="455.9" cy="387.4" r="1.58"/>
<circle cx="456.5" cy="388.7" r="1.58"/>
<circle cx="458.7" cy="385.7" r="1.58"/>
<circle cx="460.9" cy="386.1" r="1.58"/>
<circle cx="463.0" cy="387.0" r="1.58"/>
<circle cx="466.1" cy="385.2" r="1.58"/>
<circle cx="462.2" cy="389.6" r="1.58"/>
<circle cx="471.3" cy="385.7" r="1.58"/>
<circle cx="473.0" cy="387.8" r="1.58"/>
<circle cx="475.7" cy="388.7" r="1.58"/>
<circle cx="476.5" cy="384.3" r="1.58"/>
<circle cx="478.7" cy="385.7" r="1.58"/>
<circle cx="467.4" cy="390.4" r="1.58"/>
<circle cx="467.0" cy="393.0" r="1.58"/>
<circle cx="466.5" cy="395.7" r="1.58"/>
<circle cx="480.9" cy="390.0" r="1.58"/>
<circle cx="484.8" cy="391.7" r="1.58"/>
<circle cx="450.4" cy="390.9" r="1.58"/>
<circle cx="452.2" cy="393.0" r="1.58"/>
<circle cx="453.9" cy="393.9" r="1.58"/>
<circle cx="448.3" cy="395.7" r="1.58"/>
<circle cx="449.6" cy="397.4" r="1.58"/>
<circle cx="458.3" cy="392.2" r="1.58"/>
<circle cx="460.0" cy="394.8" r="1.58"/>
<circle cx="460.9" cy="397.4" r="1.58"/>
<circle cx="456.1" cy="396.5" r="1.58"/>
<circle cx="477.4" cy="393.9" r="1.58"/>
<circle cx="437.7" cy="403.3" r="1.58"/>
<circle cx="435.2" cy="406.1" r="1.58"/>
<circle cx="438.7" cy="408.0" r="1.58"/>
<circle cx="430.3" cy="407.8" r="1.58"/>
<circle cx="432.6" cy="411.5" r="1.58"/>
<circle cx="422.6" cy="413.7" r="1.58"/>
<circle cx="431.3" cy="415.4" r="1.58"/>
<circle cx="438.5" cy="413.5" r="1.58"/>
<circle cx="419.1" cy="419.2" r="1.58"/>
<circle cx="443.0" cy="402.0" r="1.58"/>
<circle cx="444.8" cy="405.4" r="1.58"/>
<circle cx="443.0" cy="411.1" r="1.58"/>
<circle cx="446.5" cy="410.2" r="1.58"/>
<circle cx="448.3" cy="412.0" r="1.58"/>
<circle cx="443.5" cy="415.4" r="1.58"/>
<circle cx="445.7" cy="416.3" r="1.58"/>
<circle cx="442.2" cy="418.5" r="1.58"/>
<circle cx="444.8" cy="419.3" r="1.58"/>
<circle cx="450.4" cy="420.2" r="1.58"/>
<circle cx="439.1" cy="423.3" r="1.58"/>
<circle cx="447.4" cy="423.3" r="1.58"/>
<circle cx="455.2" cy="423.3" r="1.58"/>
<circle cx="455.2" cy="418.0" r="1.58"/>
<circle cx="453.5" cy="412.8" r="1.58"/>
<circle cx="450.0" cy="385.9" r="1.58"/>
<circle cx="453.5" cy="387.6" r="1.58"/>
<circle cx="450.0" cy="391.5" r="1.58"/>
<circle cx="452.6" cy="393.7" r="1.58"/>
<circle cx="448.3" cy="396.3" r="1.58"/>
<circle cx="450.9" cy="398.0" r="1.58"/>
<circle cx="448.3" cy="399.8" r="1.58"/>
<circle cx="453.5" cy="398.9" r="1.58"/>
<circle cx="456.1" cy="401.5" r="1.58"/>
<circle cx="457.4" cy="405.0" r="1.58"/>
<circle cx="458.3" cy="407.6" r="1.58"/>
<circle cx="458.3" cy="411.1" r="1.58"/>
<circle cx="453.5" cy="407.6" r="1.58"/>
<circle cx="451.7" cy="410.2" r="1.58"/>
<circle cx="400.6" cy="434.8" r="1.58"/>
<circle cx="404.6" cy="419.4" r="1.58"/>
<circle cx="422.9" cy="413.8" r="1.58"/>
<circle cx="424.9" cy="431.5" r="1.58"/>
<circle cx="436.5" cy="431.5" r="1.58"/>
<circle cx="437.0" cy="446.0" r="1.58"/>
<circle cx="439.4" cy="423.9" r="1.58"/>
<circle cx="442.0" cy="428.2" r="1.58"/>
<circle cx="443.3" cy="431.5" r="1.58"/>
<circle cx="443.3" cy="418.4" r="1.58"/>
<circle cx="489.1" cy="407.7" r="1.58"/>
<circle cx="475.5" cy="409.6" r="1.58"/>
<circle cx="471.9" cy="413.8" r="1.58"/>
<circle cx="469.0" cy="416.6" r="1.58"/>
<circle cx="465.0" cy="430.0" r="1.58"/>
<circle cx="470.7" cy="435.4" r="1.58"/>
<circle cx="486.6" cy="429.3" r="1.58"/>
<circle cx="458.0" cy="454.3" r="1.58"/>
<circle cx="455.8" cy="423.9" r="1.58"/>
<circle cx="459.5" cy="426.7" r="1.58"/>
<circle cx="459.2" cy="430.8" r="1.58"/>
<circle cx="457.0" cy="433.6" r="1.58"/>
<circle cx="454.6" cy="433.2" r="1.58"/>
<circle cx="450.3" cy="432.4" r="1.58"/>
<circle cx="443.0" cy="431.2" r="1.58"/>
<circle cx="441.2" cy="428.7" r="1.58"/>
<circle cx="444.3" cy="426.7" r="1.58"/>
<circle cx="448.5" cy="424.5" r="1.58"/>
<circle cx="451.6" cy="426.9" r="1.58"/>
<circle cx="453.4" cy="428.1" r="1.58"/>
<circle cx="450.3" cy="430.0" r="1.58"/>
<circle cx="442.4" cy="418.4" r="1.58"/>
<circle cx="444.9" cy="417.2" r="1.58"/>
<circle cx="446.7" cy="414.7" r="1.58"/>
<circle cx="443.7" cy="414.1" r="1.58"/>
<circle cx="450.3" cy="420.2" r="1.58"/>
<circle cx="455.2" cy="417.8" r="1.58"/>
<circle cx="462.5" cy="417.2" r="1.58"/>
<circle cx="461.3" cy="420.8" r="1.58"/>
<circle cx="462.5" cy="423.3" r="1.58"/>
<circle cx="458.9" cy="420.2" r="1.58"/>
<circle cx="454.0" cy="413.5" r="1.58"/>
<circle cx="455.8" cy="413.5" r="1.58"/>
<circle cx="463.1" cy="409.9" r="1.58"/>
<circle cx="465.6" cy="411.7" r="1.58"/>
<circle cx="446.7" cy="409.3" r="1.58"/>
<circle cx="457.7" cy="406.8" r="1.58"/>
<circle cx="460.1" cy="408.0" r="1.58"/>
<circle cx="458.3" cy="409.9" r="1.58"/>
<circle cx="464.3" cy="406.8" r="1.58"/>
<circle cx="472.9" cy="407.4" r="1.58"/>
<circle cx="476.3" cy="371.9" r="1.58"/>
<circle cx="473.4" cy="374.2" r="1.58"/>
<circle cx="479.1" cy="377.8" r="1.58"/>
<circle cx="485.9" cy="381.0" r="1.58"/>
<circle cx="501.0" cy="392.4" r="1.58"/>
<circle cx="490.6" cy="399.0" r="1.58"/>
<circle cx="483.0" cy="403.9" r="1.58"/>
<circle cx="489.0" cy="407.8" r="1.58"/>
<circle cx="480.7" cy="390.4" r="1.58"/>
<circle cx="484.8" cy="391.9" r="1.58"/>
<circle cx="485.9" cy="392.1" r="1.58"/>
<circle cx="477.5" cy="400.8" r="1.58"/>
<circle cx="478.6" cy="402.4" r="1.58"/>
<circle cx="474.4" cy="406.0" r="1.58"/>
<circle cx="473.4" cy="407.6" r="1.58"/>
<circle cx="475.4" cy="409.5" r="1.58"/>
<circle cx="471.8" cy="413.6" r="1.58"/>
<circle cx="469.2" cy="416.5" r="1.58"/>
<circle cx="473.9" cy="379.4" r="1.58"/>
<circle cx="474.9" cy="382.0" r="1.58"/>
<circle cx="477.5" cy="384.6" r="1.58"/>
<circle cx="478.6" cy="386.7" r="1.58"/>
<circle cx="471.3" cy="386.7" r="1.58"/>
<circle cx="473.4" cy="388.8" r="1.58"/>
<circle cx="475.4" cy="389.3" r="1.58"/>
<circle cx="466.0" cy="375.2" r="1.58"/>
<circle cx="467.1" cy="379.4" r="1.58"/>
<circle cx="468.1" cy="382.5" r="1.58"/>
<circle cx="469.2" cy="384.6" r="1.58"/>
<circle cx="467.1" cy="390.9" r="1.58"/>
<circle cx="466.6" cy="394.0" r="1.58"/>
<circle cx="469.2" cy="401.3" r="1.58"/>
<circle cx="471.3" cy="400.3" r="1.58"/>
<circle cx="469.7" cy="403.4" r="1.58"/>
<circle cx="466.0" cy="409.7" r="1.58"/>
<circle cx="466.0" cy="411.8" r="1.58"/>
<circle cx="449.6" cy="386.1" r="1.58"/>
<circle cx="451.7" cy="387.7" r="1.58"/>
<circle cx="456.1" cy="387.8" r="1.58"/>
<circle cx="458.7" cy="380.9" r="1.58"/>
<circle cx="459.1" cy="385.7" r="1.58"/>
<circle cx="450.0" cy="390.9" r="1.58"/>
<circle cx="451.7" cy="393.0" r="1.58"/>
<circle cx="455.2" cy="393.0" r="1.58"/>
<circle cx="454.3" cy="394.8" r="1.58"/>
<circle cx="448.3" cy="396.1" r="1.58"/>
<circle cx="447.4" cy="398.3" r="1.58"/>
<circle cx="447.8" cy="400.4" r="1.58"/>
<circle cx="452.6" cy="399.1" r="1.58"/>
<circle cx="454.3" cy="400.9" r="1.58"/>
<circle cx="458.7" cy="396.5" r="1.58"/>
<circle cx="458.7" cy="398.3" r="1.58"/>
<circle cx="456.1" cy="403.5" r="1.58"/>
<circle cx="507.3" cy="476.3" r="1.58"/>
<circle cx="457.5" cy="399.7" r="1.58"/>
<circle cx="461.0" cy="399.5" r="1.58"/>
<circle cx="463.6" cy="399.2" r="1.58"/>
<circle cx="466.0" cy="399.3" r="1.58"/>
<circle cx="453.7" cy="401.7" r="1.58"/>
<circle cx="456.1" cy="401.5" r="1.58"/>
<circle cx="459.7" cy="402.2" r="1.58"/>
<circle cx="462.5" cy="402.1" r="1.58"/>
<circle cx="464.6" cy="401.8" r="1.58"/>
<circle cx="467.9" cy="401.6" r="1.58"/>
<circle cx="452.5" cy="404.4" r="1.58"/>
<circle cx="454.6" cy="404.8" r="1.58"/>
<circle cx="457.4" cy="404.9" r="1.58"/>
<circle cx="460.7" cy="404.5" r="1.58"/>
<circle cx="463.4" cy="404.5" r="1.58"/>
<circle cx="466.2" cy="404.0" r="1.58"/>
<circle cx="469.8" cy="404.2" r="1.58"/>
<circle cx="453.7" cy="406.7" r="1.58"/>
<circle cx="456.8" cy="407.4" r="1.58"/>
<circle cx="459.5" cy="407.3" r="1.58"/>
<circle cx="462.2" cy="407.2" r="1.58"/>
<circle cx="464.7" cy="407.0" r="1.58"/>
<circle cx="468.3" cy="406.7" r="1.58"/>
<circle cx="452.4" cy="409.9" r="1.58"/>
<circle cx="454.8" cy="409.4" r="1.58"/>
<circle cx="457.8" cy="409.4" r="1.58"/>
<circle cx="461.2" cy="409.4" r="1.58"/>
<circle cx="463.1" cy="409.1" r="1.58"/>
<circle cx="466.7" cy="410.0" r="1.58"/>
<circle cx="456.1" cy="412.2" r="1.58"/>
<circle cx="459.3" cy="412.2" r="1.58"/>
<circle cx="461.8" cy="411.7" r="1.58"/>
</g>
<line x1="400.6" y1="430.5" x2="521.9" y2="371.9" stroke="#2a5ff5" stroke-width="1.4"/>
<path d="M375.2,495.1V296.4H574.2" fill="none" stroke="#666" stroke-width="1.2"/>
<path d="M375.2,495.1H574.2V296.4" fill="none" stroke="#111" stroke-width="1.6"/>
<line x1="383.9" y1="495.1" x2="383.9" y2="497.5" stroke="#555" stroke-width="1"/>
<line x1="423.5" y1="495.1" x2="423.5" y2="497.5" stroke="#555" stroke-width="1"/>
<line x1="463.0" y1="495.1" x2="463.0" y2="497.5" stroke="#555" stroke-width="1"/>
<line x1="502.4" y1="495.1" x2="502.4" y2="497.5" stroke="#555" stroke-width="1"/>
<line x1="541.8" y1="495.1" x2="541.8" y2="497.5" stroke="#555" stroke-width="1"/>
<line x1="372.6" y1="329.5" x2="375.2" y2="329.5" stroke="#555" stroke-width="1"/>
<line x1="372.6" y1="368.8" x2="375.2" y2="368.8" stroke="#555" stroke-width="1"/>
<line x1="372.6" y1="408.2" x2="375.2" y2="408.2" stroke="#555" stroke-width="1"/>
<line x1="372.6" y1="447.5" x2="375.2" y2="447.5" stroke="#555" stroke-width="1"/>
<line x1="372.6" y1="486.8" x2="375.2" y2="486.8" stroke="#555" stroke-width="1"/>
<text x="370.63" y="509.00" font-size="12.6" class=tk>-0.10</text>
<text x="414.43" y="509.00" font-size="12.6" class=tk>-0.05</text>
<text x="457.22" y="509.00" font-size="12.6" class=tk>0.00</text>
<text x="496.52" y="509.00" font-size="12.6" class=tk>0.05</text>
<text x="535.92" y="509.00" font-size="12.6" class=tk>0.10</text>
<text x="347.53" y="334.23" font-size="12.6" class=tk>0.10</text>
<text x="347.54" y="373.23" font-size="12.6" class=tk>0.05</text>
<text x="347.53" y="411.88" font-size="12.6" class=tk>0.00</text>
<text x="343.35" y="450.38" font-size="12.6" class=tk>-0.05</text>
<text x="343.33" y="488.83" font-size="12.6" class=tk>-0.10</text>
<text x="123.62" y="13.90" font-size="20.2">13:30</text>
<text x="446.22" y="13.90" font-size="20.2">1:30</text>
<text x="123.02" y="288.60" font-size="20.2">10:30</text>
<text x="444.91" y="288.60" font-size="20.2">22:30</text>
<text x="-0.39" y="26.80" font-size="20.2">(a)</text>
<text x="314.11" y="26.80" font-size="20.2">(b)</text>
<text x="-0.39" y="295.80" font-size="20.2">(c)</text>
<text x="314.11" y="295.80" font-size="20.2">(d)</text>
<text x="74.77" y="43.20" font-size="18.4">R</text>
<text x="86.75" y="37.60" font-size="12.5">2</text>
<rect x="95.90" y="35.15" width="9.8" height="0.95"/>
<rect x="95.90" y="38.37" width="9.8" height="0.95"/>
<text x="110.10" y="43.20" font-size="18.4">0.0151</text>
<text x="395.07" y="43.00" font-size="18.4">R</text>
<text x="407.05" y="37.40" font-size="12.5">2</text>
<rect x="416.20" y="34.95" width="9.8" height="0.95"/>
<rect x="416.20" y="38.17" width="9.8" height="0.95"/>
<text x="430.40" y="43.00" font-size="18.4">0.285</text>
<text x="75.17" y="319.90" font-size="18.4">R</text>
<text x="87.15" y="314.30" font-size="12.5">2</text>
<rect x="96.30" y="311.85" width="9.8" height="0.95"/>
<rect x="96.30" y="315.07" width="9.8" height="0.95"/>
<text x="110.50" y="319.90" font-size="18.4">0.0235</text>
<text x="394.97" y="319.90" font-size="18.4">R</text>
<text x="406.95" y="314.30" font-size="12.5">2</text>
<rect x="416.10" y="311.85" width="9.8" height="0.95"/>
<rect x="416.10" y="315.07" width="9.8" height="0.95"/>
<text x="430.30" y="319.90" font-size="18.4">0.138</text>
<text x="97.07" y="258.80" font-size="20.3">CE</text>
<text x="122.26" y="263.80" font-size="13.5">Ts</text>
<text x="138.91" y="258.80" font-size="20.3">(°C</text>
<text x="171.81" y="258.80" font-size="20.3">%</text>
<text x="188.50" y="252.80" font-size="13.5">-</text>
<text x="193.41" y="252.80" font-size="13.5">1</text>
<text x="199.15" y="258.80" font-size="20.3">)</text>
<text x="422.47" y="258.80" font-size="20.3">CE</text>
<text x="447.66" y="263.80" font-size="13.5">Ts</text>
<text x="464.31" y="258.80" font-size="20.3">(°C</text>
<text x="497.21" y="258.80" font-size="20.3">%</text>
<text x="513.90" y="252.80" font-size="13.5">-</text>
<text x="518.81" y="252.80" font-size="13.5">1</text>
<text x="524.55" y="258.80" font-size="20.3">)</text>
<text x="97.07" y="527.60" font-size="20.3">CE</text>
<text x="122.26" y="532.60" font-size="13.5">Ts</text>
<text x="138.91" y="527.60" font-size="20.3">(°C</text>
<text x="171.81" y="527.60" font-size="20.3">%</text>
<text x="188.50" y="521.60" font-size="13.5">-</text>
<text x="193.41" y="521.60" font-size="13.5">1</text>
<text x="199.15" y="527.60" font-size="20.3">)</text>
<text x="414.27" y="527.40" font-size="20.3">CE</text>
<text x="439.46" y="532.40" font-size="13.5">Ts</text>
<text x="456.11" y="527.40" font-size="20.3">(°C</text>
<text x="489.01" y="527.40" font-size="20.3">%</text>
<text x="505.70" y="521.40" font-size="13.5">-</text>
<text x="510.61" y="521.40" font-size="13.5">1</text>
<text x="516.35" y="527.40" font-size="20.3">)</text>
<g transform="translate(16.50,193.90) rotate(-90)">
<text x="-0.83" y="0.00" font-size="20.3">CE</text>
<text x="24.36" y="5.00" font-size="13.5">Ta</text>
<text x="41.01" y="0.00" font-size="20.3">(°C</text>
<text x="73.91" y="0.00" font-size="20.3">%</text>
<text x="90.60" y="-6.00" font-size="13.5">-</text>
<text x="95.51" y="-6.00" font-size="13.5">1</text>
<text x="101.25" y="0.00" font-size="20.3">)</text>
</g>
<g transform="translate(333.60,193.90) rotate(-90)">
<text x="-0.83" y="0.00" font-size="20.3">CE</text>
<text x="24.36" y="5.00" font-size="13.5">Ta</text>
<text x="41.01" y="0.00" font-size="20.3">(°C</text>
<text x="73.91" y="0.00" font-size="20.3">%</text>
<text x="90.60" y="-6.00" font-size="13.5">-</text>
<text x="95.51" y="-6.00" font-size="13.5">1</text>
<text x="101.25" y="0.00" font-size="20.3">)</text>
</g>
<g transform="translate(16.50,464.60) rotate(-90)">
<text x="-0.83" y="0.00" font-size="20.3">CE</text>
<text x="24.36" y="5.00" font-size="13.5">Ta</text>
<text x="41.01" y="0.00" font-size="20.3">(°C</text>
<text x="73.91" y="0.00" font-size="20.3">%</text>
<text x="90.60" y="-6.00" font-size="13.5">-</text>
<text x="95.51" y="-6.00" font-size="13.5">1</text>
<text x="101.25" y="0.00" font-size="20.3">)</text>
</g>
<g transform="translate(333.60,464.10) rotate(-90)">
<text x="-0.83" y="0.00" font-size="20.3">CE</text>
<text x="24.36" y="5.00" font-size="13.5">Ta</text>
<text x="41.01" y="0.00" font-size="20.3">(°C</text>
<text x="73.91" y="0.00" font-size="20.3">%</text>
<text x="90.60" y="-6.00" font-size="13.5">-</text>
<text x="95.51" y="-6.00" font-size="13.5">1</text>
<text x="101.25" y="0.00" font-size="20.3">)</text>
</g>
</svg>
</body></html>
